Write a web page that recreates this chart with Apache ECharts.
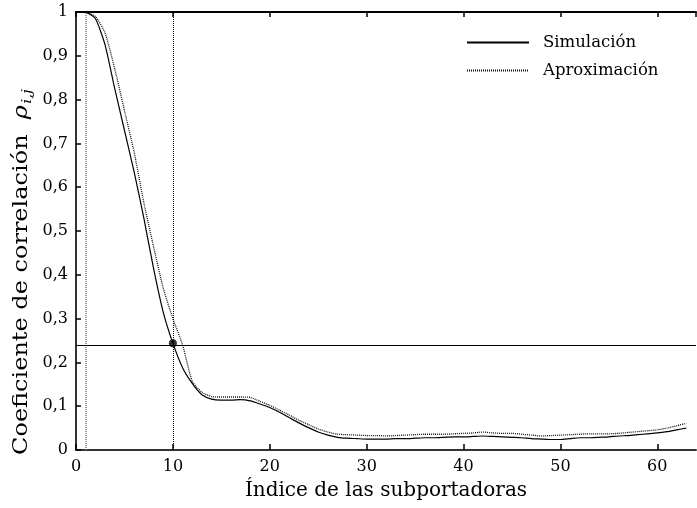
<!DOCTYPE html>
<html><head><meta charset="utf-8">
<script src="https://cdn.jsdelivr.net/npm/echarts@6/dist/echarts.min.js"></script>
<style>html,body{margin:0;padding:0;background:#fff}#c{width:697px;height:508px}</style>
</head><body><div id="c"></div>
<script>
const subcarriers = [1,2,3,4,5,6,7,8,9,10,11,12,13,14,15,16,17,18,19,20,21,22,23,24,25,26,27,28,29,30,31,32,33,34,35,36,37,38,39,40,41,42,43,44,45,46,47,48,49,50,51,52,53,54,55,56,57,58,59,60,61,62,63];
const simulacion = [1.000,0.985,0.925,0.825,0.730,0.635,0.530,0.415,0.315,0.244,0.188,0.152,0.126,0.116,0.114,0.114,0.115,0.112,0.105,0.097,0.086,0.074,0.062,0.051,0.041,0.034,0.029,0.027,0.026,0.025,0.025,0.025,0.026,0.026,0.027,0.028,0.028,0.029,0.030,0.030,0.031,0.032,0.031,0.030,0.029,0.028,0.026,0.025,0.024,0.024,0.026,0.028,0.028,0.029,0.030,0.032,0.033,0.035,0.037,0.039,0.042,0.046,0.050];
const aproximacion = [1.000,0.990,0.952,0.870,0.775,0.680,0.565,0.465,0.370,0.300,0.240,0.157,0.132,0.122,0.121,0.121,0.121,0.120,0.111,0.102,0.091,0.080,0.068,0.058,0.048,0.041,0.036,0.035,0.034,0.033,0.033,0.032,0.033,0.034,0.035,0.036,0.036,0.036,0.037,0.038,0.039,0.041,0.039,0.038,0.038,0.036,0.034,0.032,0.033,0.034,0.035,0.036,0.037,0.037,0.037,0.038,0.040,0.042,0.044,0.046,0.050,0.055,0.061];
const refX = [1, 10];
const refY = [0.244];
const refPoint = [10, 0.244];
const xTicks = [0,10,20,30,40,50,60];
const yTicks = [0,0.1,0.2,0.3,0.4,0.5,0.6,0.7,0.8,0.9,1];

const FONT = 'DejaVu Serif';
const chart = echarts.init(document.getElementById('c'), null, {renderer:'canvas'});
const toPairs = (xs, ys) => xs.map((x,i)=>[x, ys[i]]);
const fmtY = v => { const r = Math.round(v*10)/10; if (!yTicks.some(t=>Math.abs(t-r)<1e-9)) return ''; return (r===0||r===1) ? String(r) : r.toFixed(1).replace('.', ','); };

chart.setOption({
  animation: false,
  backgroundColor: '#fff',
  grid: {left: 76, right: 1, top: 12, bottom: 58, containLabel: false},
  legend: {
    data: ['Simulación','Aproximación'],
    orient: 'vertical', left: 466, top: 34, padding: 0,
    itemWidth: 62, itemHeight: 10, itemGap: 11,
    itemStyle: {opacity: 0},
    textStyle: {fontFamily: FONT, fontSize: 16.5, color: '#000', padding: [0,0,0,9]},
    inactiveColor: '#000'
  },
  graphic: [{
    type: 'text', x: 22, y: 272, rotation: Math.PI/2, scaleX: 1.2, silent: true,
    style: {
      text: '{a|Coeficiente de correlación  }{r|ρ}{s|i,j}',
      align: 'center', verticalAlign: 'middle',
      rich: {
        a: {fontFamily: FONT, fontSize: 20, lineHeight: 26, fill: '#000', verticalAlign: 'middle'},
        r: {fontFamily: FONT, fontSize: 20, lineHeight: 26, fill: '#000', fontStyle: 'italic', verticalAlign: 'middle'},
        s: {fontFamily: FONT, fontSize: 13, lineHeight: 13, fill: '#000', fontStyle: 'italic', verticalAlign: 'bottom', padding: [0,0,1,1]}
      }
    }
  }],
  xAxis: [{
    type: 'value', min: 0, max: 64, interval: 10,
    position: 'bottom',
    axisLine: {lineStyle: {color: '#333', width: 2}},
    axisTick: {inside: true, length: 6, lineStyle: {color: '#000', width: 1.5}},
    axisLabel: {fontFamily: FONT, fontSize: 16, color: '#000', margin: 9, showMaxLabel: false,
      formatter: v => xTicks.includes(v) ? String(v) : ''},
    splitLine: {show: false},
    name: 'Índice de las subportadoras', nameLocation: 'middle', nameGap: 31,
    nameTextStyle: {fontFamily: FONT, fontSize: 20, color: '#000'}
  },{
    type: 'value', min: 0, max: 64, interval: 10, position: 'top',
    axisLine: {show: true, lineStyle: {color: '#000', width: 2}},
    axisTick: {show: true, inside: true, length: 5, lineStyle: {color: '#000', width: 1.5}},
    axisLabel: {show: false}, splitLine: {show: false}
  }],
  yAxis: [{
    type: 'value', min: 0, max: 1, interval: 0.1,
    axisLine: {show: true, lineStyle: {color: '#333', width: 2}},
    axisTick: {show: true, inside: true, length: 5, lineStyle: {color: '#000', width: 1.5}},
    axisLabel: {fontFamily: FONT, fontSize: 16, color: '#000', margin: 8, formatter: fmtY},
    splitLine: {show: false}
  }],
  series: [
    {
      name: 'Simulación', type: 'line', data: toPairs(subcarriers, simulacion),
      symbol: 'none', smooth: 0.2, color: '#000',
      lineStyle: {color: '#000', width: 1.2}, z: 3
    },
    {
      name: 'Aproximación', type: 'line', data: toPairs(subcarriers, aproximacion),
      symbol: 'none', smooth: 0.2, color: '#111',
      lineStyle: {color: '#111', width: 1.3, type: [1,1]}, z: 3
    },
    {
      name: 'refs', type: 'line', data: [], symbol: 'none',
      markLine: {
        silent: true, symbol: 'none', label: {show: false},
        data: [
          {xAxis: refX[0], lineStyle: {color: '#777', width: 1.5, type: [1,1]}},
          {xAxis: refX[1], lineStyle: {color: '#000', width: 1, type: [1,1]}},
          {yAxis: refY[0], lineStyle: {color: '#000', width: 1.2, type: 'solid'}}
        ]
      }, z: 2
    },
    {
      name: 'punto', type: 'scatter', data: [refPoint], symbol: 'circle', symbolSize: 8,
      itemStyle: {color: '#000'}, z: 5
    }
  ]
});
</script></body></html>
